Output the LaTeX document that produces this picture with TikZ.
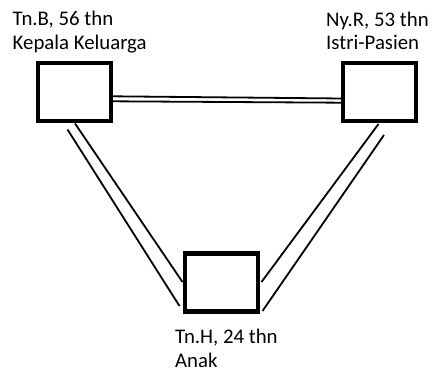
\documentclass[tikz,border=0pt]{standalone}
\usepackage{fontspec}
\setmainfont{Carlito}
\usetikzlibrary{calc}
\begin{document}
\begin{tikzpicture}[x=1pt,y=-1pt,
  person/.style={draw=black,line width=4.5pt,fill=white,minimum width=73pt,minimum height=58pt,inner sep=0pt},
  rel/.style={draw=black,line width=1.8pt},
  lbl/.style={anchor=base west,inner sep=0pt,font=\fontsize{20.8}{24}\selectfont}]
\useasboundingbox (0,0) rectangle (433,371);
% connector end points
\coordinate (hA1) at (112,96.3);
\coordinate (hA2) at (342,98.5);
\coordinate (hB1) at (112,101.3);
\coordinate (hB2) at (342,102.7);
\coordinate (lA1) at (75,123.5);
\coordinate (lA2) at (182.5,282);
\coordinate (lB1) at (67.5,129.5);
\coordinate (lB2) at (179.5,306);
\coordinate (rA1) at (378.5,124);
\coordinate (rA2) at (261.5,282);
\coordinate (rB1) at (384,135);
\coordinate (rB2) at (262.5,311);
% relations
\draw[rel] (hA1) -- (hA2);
\draw[rel] (hB1) -- (hB2);
\draw[rel] (lA1) -- (lA2);
\draw[rel] (lB1) -- (lB2);
\draw[rel] (rA1) -- (rA2);
\draw[rel] (rB1) -- (rB2);
% people
\node[person] (b1) at (74.5,92.2) {};
\node[person] (b2) at (379.5,92.2) {};
\node[person] (b3) at (221.7,282.5) {};
% labels
\node[lbl] (l1a) at (12.5,26) {Tn.B, 56 thn};
\node[lbl] (l1b) at (12.5,50) {Kepala Keluarga};
\node[lbl] (l2a) at (326,26.5) {Ny.R, 53 thn};
\node[lbl] (l2b) at (326,50) {Istri-Pasien};
\node[lbl] (l3a) at (175,343) {Tn.H, 24 thn};
\node[lbl] (l3b) at (175,367) {Anak};
\end{tikzpicture}
\end{document}
